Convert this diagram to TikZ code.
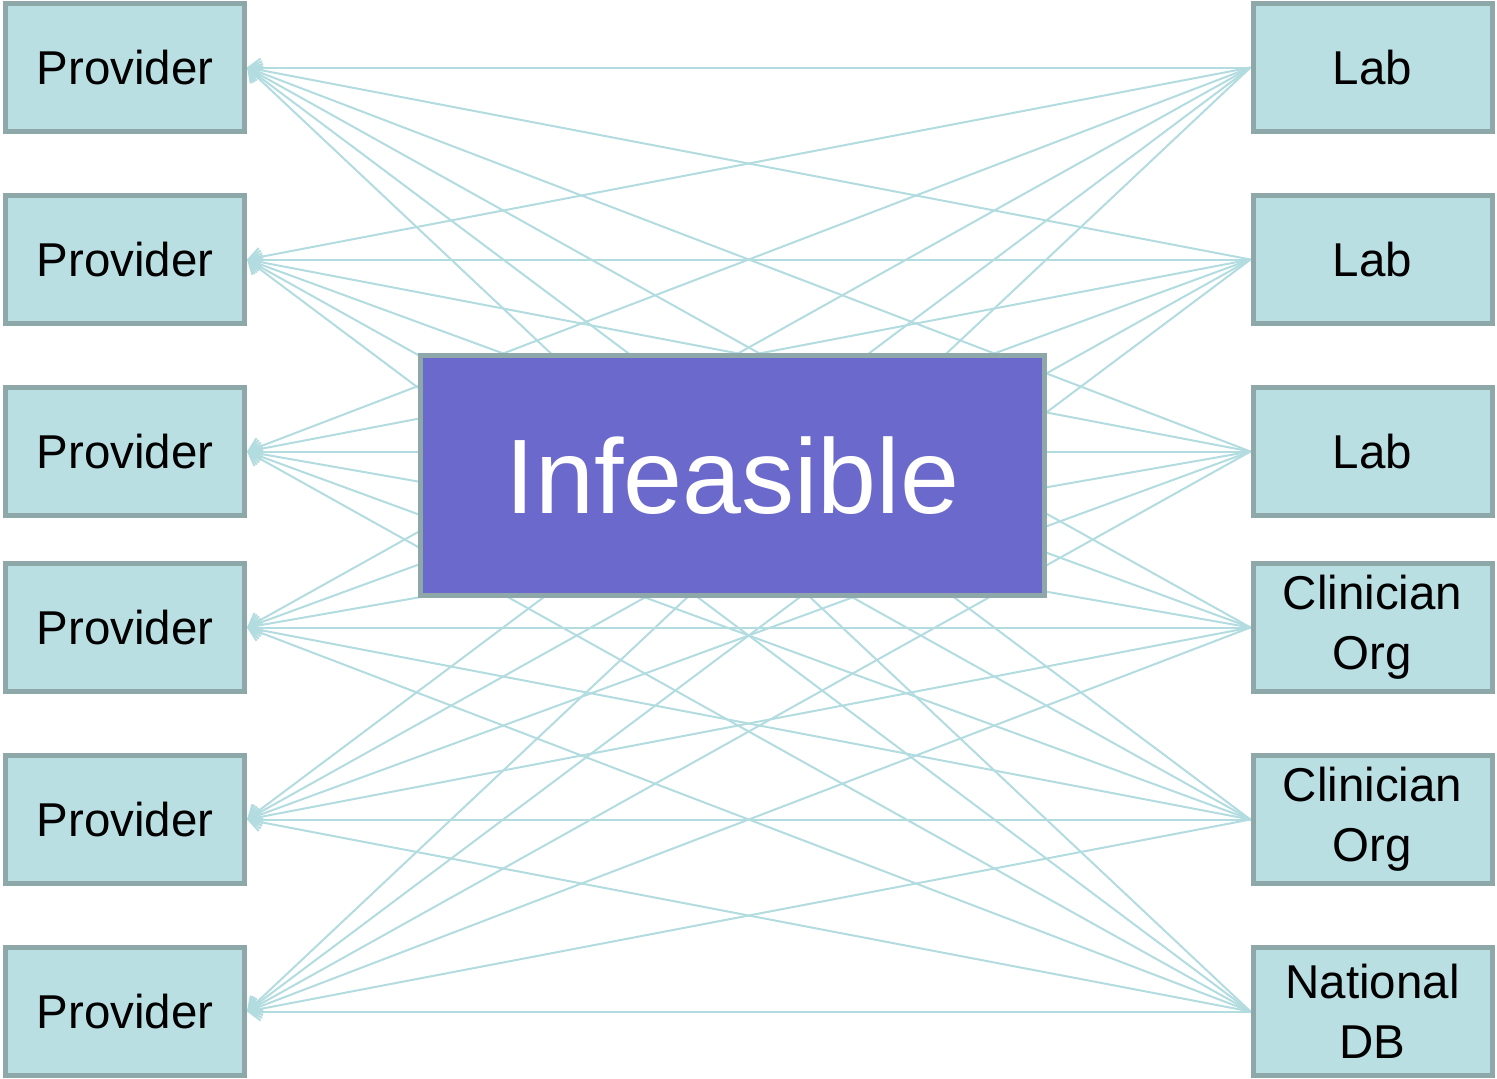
\documentclass[tikz,border=0pt]{standalone}
\usepackage{fontspec}
\setmainfont{Liberation Sans}
\usetikzlibrary{arrows.meta}
\definecolor{boxfill}{HTML}{BADFE3}
\definecolor{boxline}{HTML}{8EA8AA}
\definecolor{conn}{HTML}{B2DCDF}
\definecolor{midfill}{HTML}{6B6ACC}
\begin{document}
\begin{tikzpicture}[x=1pt,y=-1pt,
  ent/.style={draw=boxline,fill=boxfill,line width=5pt,minimum width=239pt,minimum height=128pt,
    inner sep=0pt,align=center,font=\fontsize{47.5}{60}\selectfont},
  link/.style={draw=conn,line width=2pt,-{Straight Barb[length=12pt,width=18pt]}},
  hub/.style={draw=boxline,fill=midfill,line width=5pt,minimum width=624pt,minimum height=240pt,
    inner sep=0pt,text=white,font=\fontsize{106}{120}\selectfont}]
\useasboundingbox (0,0) rectangle (1497,1079);
\foreach \i/\y in {1/67.5,2/259.5,3/451.5,4/627.5,5/819.5,6/1011.5}{
  \node[ent] (p\i) at (125,\y) {Provider};
}
\node[ent] (r1) at (1372.5,67.5) {Lab};
\node[ent] (r2) at (1372.5,259.5) {Lab};
\node[ent] (r3) at (1372.5,451.5) {Lab};
\node[ent] (r4) at (1372.5,627.5) {Clinician\\Org};
\node[ent] (r5) at (1372.5,819.5) {Clinician\\Org};
\node[ent] (r6) at (1372.5,1011.5) {National\\DB};
\foreach \r in {1,...,6}{
  \foreach \l in {1,...,6}{
    \draw[link] (r\r.west) -- (p\l.east);
  }
}
\node[hub] (hub) at (732.5,475.5) {Infeasible};
\end{tikzpicture}
\end{document}
